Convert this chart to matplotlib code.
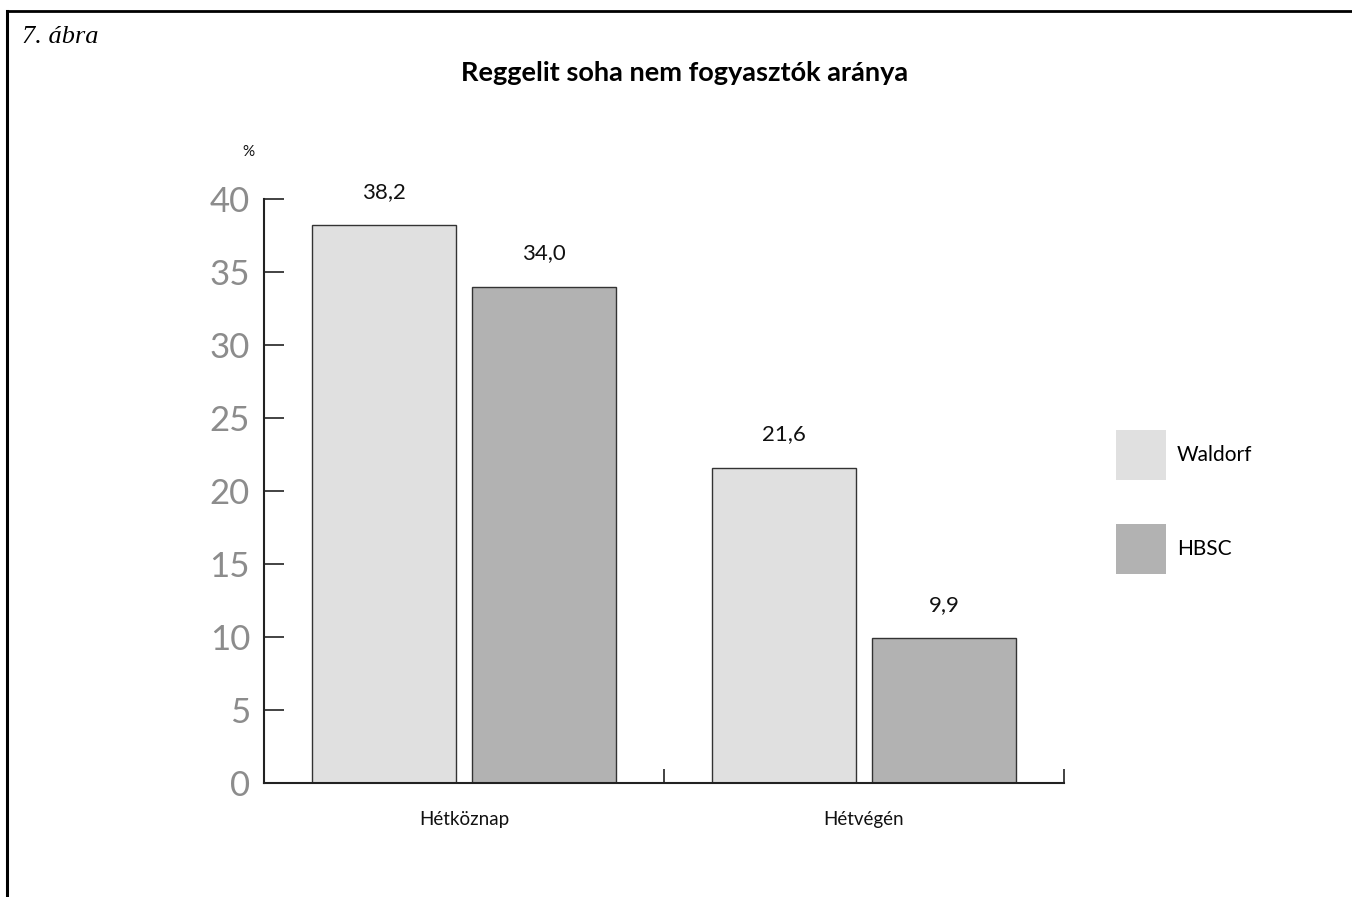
import matplotlib
matplotlib.use("Agg")
import matplotlib.pyplot as plt
import numpy as np
from matplotlib.lines import Line2D
from matplotlib.patches import Patch

# Data
categories = ["Hétköznap", "Hétvégén"]
series_names = ["Waldorf", "HBSC"]
waldorf = [38.2, 21.6]
hbsc = [34.0, 9.9]
y_ticks = [0, 5, 10, 15, 20, 25, 30, 35, 40]

colors = ["#e0e0e0", "#b2b2b2"]
edge = "#333333"

plt.rcParams["font.family"] = ["Lato", "DejaVu Sans"]

fig = plt.figure(figsize=(13.52, 8.97), dpi=100)
ax = fig.add_axes([264 / 1352, 1 - 783 / 897, 800 / 1352, 584 / 897])

x = np.arange(len(categories))
width = 0.36
offsets = [-0.2, 0.2]
for vals, off, col in zip([waldorf, hbsc], offsets, colors):
    bars = ax.bar(x + off, vals, width, color=col, edgecolor=edge, linewidth=1.0, zorder=2)
    for b, v in zip(bars, vals):
        ax.annotate(f"{v:.1f}".replace(".", ","),
                    (b.get_x() + b.get_width() / 2, v),
                    xytext=(0, 24), textcoords="offset points",
                    ha="center", va="center", fontsize=16, color="#111111")

ax.set_xlim(-0.5, len(categories) - 0.5)
ax.set_ylim(0, 40)

for s in ["top", "right"]:
    ax.spines[s].set_visible(False)
for s in ["left", "bottom"]:
    ax.spines[s].set_color("#222222")
    ax.spines[s].set_linewidth(1.5)
    ax.spines[s].set_zorder(3)

ax.set_yticks(y_ticks)
ax.set_yticklabels([str(t) for t in y_ticks])
ax.tick_params(axis="y", direction="in", length=14.5, width=1.2, color="#222222",
               labelsize=25, labelcolor="#8c8c8c", pad=10)

ax.set_xticks(x)
ax.set_xticklabels(categories)
ax.tick_params(axis="x", which="major", length=0, labelsize=13.5, labelcolor="#111111", pad=20)
ax.set_xticks(np.arange(-0.5, len(categories)), minor=True)
ax.tick_params(axis="x", which="minor", direction="in", length=10, width=1.2, color="#222222")

# Unit label
fig.text(248 / 1352, 1 - 152 / 897, "%", fontsize=11, ha="center", va="center", color="#111111")

# Title and figure number
fig.text(685 / 1352, 1 - 73 / 897, "Reggelit soha nem fogyasztók aránya",
         fontsize=19.5, fontweight="bold", ha="center", va="center", color="black")
fig.text(22 / 1352, 1 - 37 / 897, "7. ábra", fontsize=19, style="italic",
         family="Liberation Serif", ha="left", va="center", color="black")

# Frame lines
fig.add_artist(Line2D([7 / 1352, 7 / 1352], [0, 1 - 11 / 897], transform=fig.transFigure,
                      color="black", linewidth=2.2))
fig.add_artist(Line2D([7 / 1352, 1], [1 - 11 / 897, 1 - 11 / 897], transform=fig.transFigure,
                      color="black", linewidth=2.0))

# Legend
leg_fs = 15
handles = [Patch(facecolor=c, edgecolor="none") for c in colors]
fig.legend(handles, series_names, loc="upper left", bbox_to_anchor=(1116 / 1352, 1 - 430 / 897),
           frameon=False, borderpad=0, borderaxespad=0,
           handlelength=2.4, handleheight=3.32, labelspacing=2.1,
           handletextpad=0.53, fontsize=leg_fs)

fig.savefig("out.png", dpi=100)
